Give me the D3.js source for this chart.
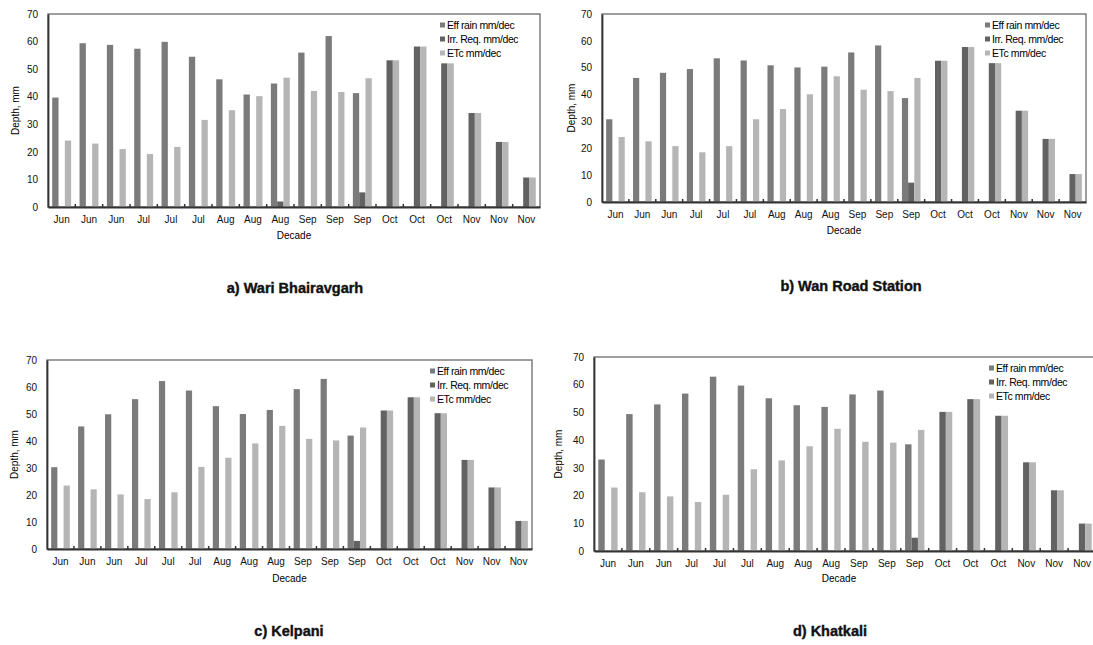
<!DOCTYPE html>
<html>
<head>
<meta charset="utf-8">
<script src="https://cdn.jsdelivr.net/npm/d3@7"></script>
<style>
  body { margin: 0; background: #fff; }
  svg { display: block; font-family: "Liberation Sans", Arial, sans-serif; }
</style>
</head>
<body>
<div id="chart"></div>
<script>
// decades on the x axis
const decades = ["Jun", "Jun", "Jun", "Jul", "Jul", "Jul", "Aug", "Aug", "Aug",
  "Sep", "Sep", "Sep", "Oct", "Oct", "Oct", "Nov", "Nov", "Nov"];
const seriesNames = ["Eff rain mm/dec", "Irr. Req. mm/dec", "ETc mm/dec"];
const yTicks = [0, 10, 20, 30, 40, 50, 60, 70];

// a) Wari Bhairavgarh
const wariEff = [39.7, 59.4, 58.8, 57.4, 59.9, 54.5, 46.3, 40.8, 44.8, 56.0, 62.0, 41.3, 0, 0, 0, 0, 0, 0];
const wariIrr = [0, 0, 0, 0, 0, 0, 0, 0, 2.0, 0, 0, 5.3, 53.2, 58.2, 52.1, 34.1, 23.6, 10.7];
const wariEtc = [24.1, 23.0, 21.0, 19.2, 21.8, 31.6, 35.1, 40.2, 46.9, 42.1, 41.7, 46.7, 53.2, 58.2, 52.1, 34.1, 23.6, 10.7];

// b) Wan Road Station
const wanEff = [30.8, 46.2, 48.1, 49.5, 53.5, 52.7, 50.9, 50.1, 50.4, 55.7, 58.3, 38.7, 0, 0, 0, 0, 0, 0];
const wanIrr = [0, 0, 0, 0, 0, 0, 0, 0, 0, 0, 0, 7.2, 52.6, 57.7, 51.7, 34.0, 23.5, 10.4];
const wanEtc = [24.2, 22.6, 20.8, 18.5, 20.8, 30.8, 34.6, 40.1, 46.8, 41.8, 41.3, 46.2, 52.6, 57.7, 51.7, 34.0, 23.5, 10.4];

// c) Kelpani
const kelEff = [30.3, 45.4, 49.9, 55.5, 62.2, 58.7, 52.9, 50.0, 51.5, 59.2, 63.0, 42.0, 0, 0, 0, 0, 0, 0];
const kelIrr = [0, 0, 0, 0, 0, 0, 0, 0, 0, 0, 0, 3.0, 51.3, 56.2, 50.3, 33.0, 22.8, 10.4];
const kelEtc = [23.5, 22.1, 20.2, 18.5, 21.0, 30.4, 33.8, 39.1, 45.6, 40.8, 40.2, 45.0, 51.3, 56.2, 50.3, 33.0, 22.8, 10.4];

// d) Khatkali
const khaEff = [33.0, 49.4, 52.9, 56.8, 62.9, 59.7, 55.1, 52.6, 52.0, 56.5, 57.9, 38.5, 0, 0, 0, 0, 0, 0];
const khaIrr = [0, 0, 0, 0, 0, 0, 0, 0, 0, 0, 0, 4.8, 50.2, 54.8, 48.8, 32.0, 21.9, 9.9];
const khaEtc = [22.9, 21.2, 19.7, 17.7, 20.3, 29.5, 32.7, 37.8, 44.1, 39.4, 39.1, 43.7, 50.2, 54.8, 48.8, 32.0, 21.9, 9.9];

const colors = ["#7b7b7b", "#626262", "#b5b5b5"];

// panel layout (plot area boxes + label spots)
const panels = [
  { title: "a) Wari Bhairavgarh", series: [wariEff, wariIrr, wariEtc],
    x0: 48, x1: 540, y0: 14, y1: 207, titleX: 295, titleY: 293, ylabX: 15, xlabY: 239, legX: 440 },
  { title: "b) Wan Road Station", series: [wanEff, wanIrr, wanEtc],
    x0: 602, x1: 1086, y0: 14, y1: 202, titleX: 851, titleY: 291, ylabX: 571, xlabY: 234, legX: 985 },
  { title: "c) Kelpani", series: [kelEff, kelIrr, kelEtc],
    x0: 47, x1: 532, y0: 360, y1: 549, titleX: 289, titleY: 636, ylabX: 14, xlabY: 582, legX: 430 },
  { title: "d) Khatkali", series: [khaEff, khaIrr, khaEtc],
    x0: 594, x1: 1096, y0: 357, y1: 551, titleX: 830, titleY: 636, ylabX: 558, xlabY: 582, legX: 989 }
];

const svg = d3.select("#chart").append("svg")
  .attr("width", 1093)
  .attr("height", 645);

panels.forEach((p) => {
  const g = svg.append("g");
  const idx = d3.range(decades.length);

  const x = d3.scaleBand().domain(idx).range([p.x0, p.x1]).padding(0);
  const xs = d3.scaleBand().domain(d3.range(3)).range([0, x.bandwidth()])
    .paddingInner(0).paddingOuter(0.667);
  const y = d3.scaleLinear().domain([0, 70]).range([p.y1, p.y0]);

  // frame (top + right)
  g.append("rect")
    .attr("x", p.x0).attr("y", p.y0)
    .attr("width", p.x1 - p.x0).attr("height", p.y1 - p.y0)
    .attr("fill", "none").attr("stroke", "#6a6a6a").attr("stroke-width", 1.3);

  // bars
  p.series.forEach((vals, s) => {
    g.append("g").selectAll("rect")
      .data(vals)
      .join("rect")
      .attr("x", (d, i) => x(i) + xs(s))
      .attr("y", (d) => y(d))
      .attr("width", xs.bandwidth())
      .attr("height", (d) => y(0) - y(d))
      .attr("fill", colors[s]);
  });

  // y axis
  const yAxis = g.append("g")
    .attr("transform", `translate(${p.x0},0)`)
    .call(d3.axisLeft(y).tickValues(yTicks).tickSize(0).tickPadding(10));
  yAxis.select(".domain").attr("stroke", "#333").attr("stroke-width", 1.8);
  yAxis.selectAll("text").attr("font-size", 10).attr("fill", "#111");

  // x axis
  const xAxis = g.append("g")
    .attr("transform", `translate(0,${p.y1})`)
    .call(d3.axisBottom(x).tickFormat((i) => decades[i]).tickSize(0).tickPadding(9));
  xAxis.select(".domain").attr("stroke", "#333").attr("stroke-width", 1.8);
  xAxis.selectAll("text").attr("font-size", 10).attr("fill", "#111");

  // small tick marks between decades
  g.append("g").selectAll("line")
    .data(idx.slice(1))
    .join("line")
    .attr("x1", (i) => x(i)).attr("x2", (i) => x(i))
    .attr("y1", p.y1).attr("y2", p.y1 - 3)
    .attr("stroke", "#333").attr("stroke-width", 1.5);

  // axis titles
  g.append("text")
    .attr("transform", `translate(${p.ylabX},${(p.y0 + p.y1) / 2}) rotate(-90)`)
    .attr("text-anchor", "middle")
    .attr("dy", "0.35em")
    .attr("font-size", 10)
    .text("Depth, mm");

  g.append("text")
    .attr("x", (p.x0 + p.x1) / 2 - (p.x1 > 1093 ? 6 : 0))
    .attr("y", p.xlabY)
    .attr("text-anchor", "middle")
    .attr("font-size", 10)
    .text("Decade");

  // legend
  const leg = g.append("g").attr("transform", `translate(${p.legX},${p.y0 + 11})`);
  seriesNames.forEach((name, s) => {
    leg.append("rect")
      .attr("x", 0).attr("y", s * 14 - 2.5)
      .attr("width", 5).attr("height", 5)
      .attr("fill", colors[s]);
    leg.append("text")
      .attr("x", 7).attr("y", s * 14)
      .attr("dy", "0.35em")
      .attr("font-size", 10.5)
      .attr("letter-spacing", -0.4)
      .text(name);
  });

  // panel title
  svg.append("text")
    .attr("x", p.titleX).attr("y", p.titleY)
    .attr("text-anchor", "middle")
    .attr("font-size", 14.5)
    .attr("font-weight", "bold")
    .attr("fill", "#111")
    .attr("stroke", "#111").attr("stroke-width", 0.4)
    .text(p.title);
});
</script>
</body>
</html>
